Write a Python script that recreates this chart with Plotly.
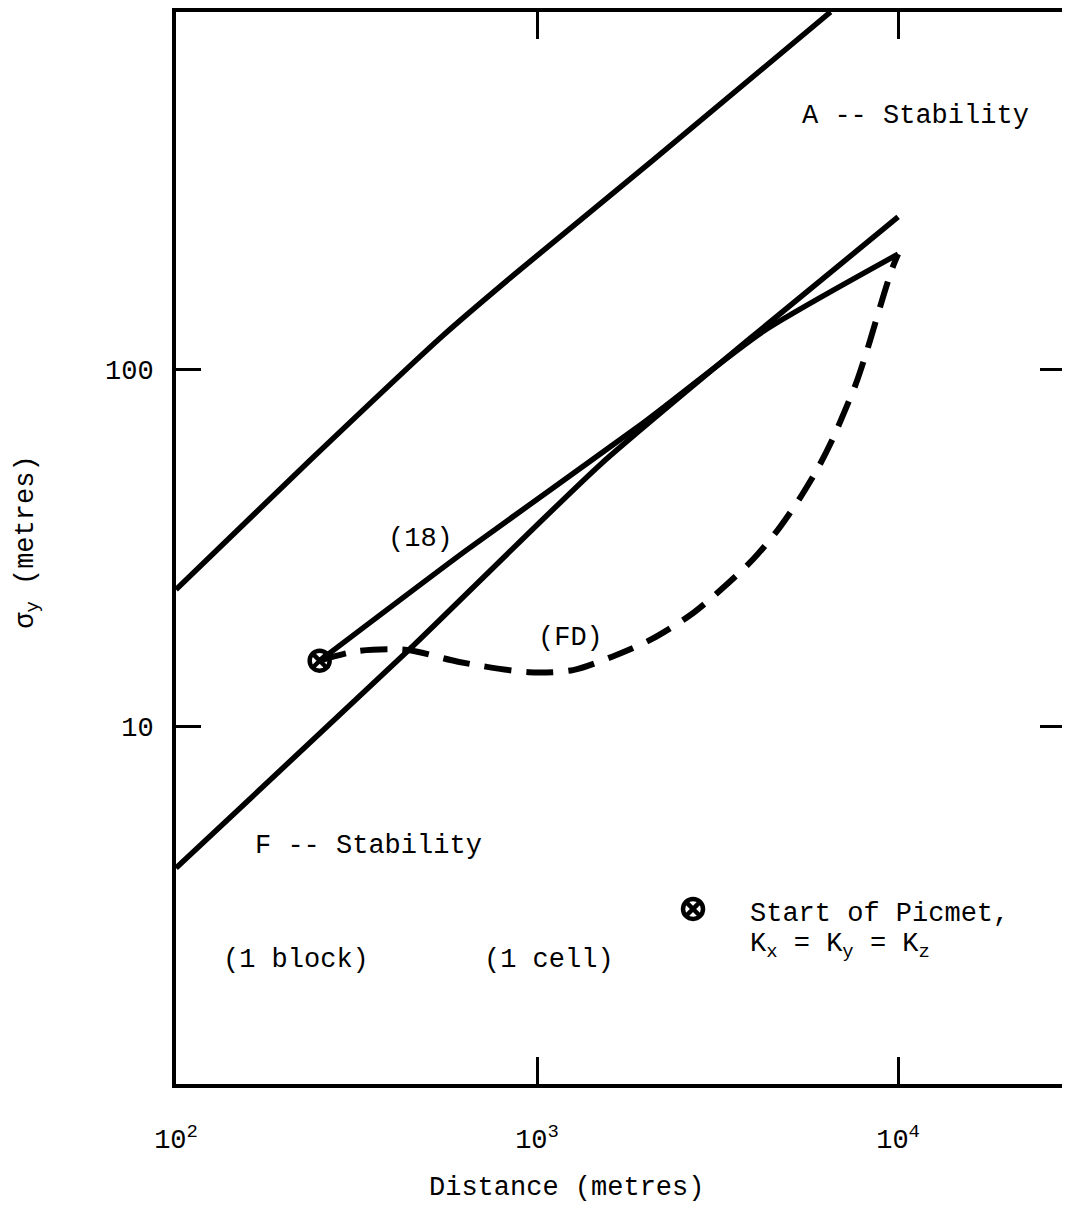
import plotly.graph_objects as go

# ---- data ----
a_x = [100, 234, 549, 869, 2096, 6500]
a_y = [24.2, 55.4, 124.4, 185, 385, 1000]

f_x = [100, 436, 1496, 3890, 10000]
f_y = [4.02, 16.2, 54.1, 122, 267]

l18_x = [250, 635, 1968, 4227, 10000]
l18_y = [15.3, 31.1, 70.8, 127.6, 210]

fd_x = [250, 321, 437, 604, 950, 1258, 1614, 2083, 2671, 3234, 3966, 4652,
        5352, 6003, 6605, 7134, 7650, 8154, 8636, 9145, 9624, 10000]
fd_y = [15.3, 16.3, 16.4, 15.2, 14.2, 14.4, 15.7, 17.6, 20.6, 24.2, 29.4, 35.6,
        43.7, 53.0, 64.2, 76.9, 91.4, 110.8, 134.3, 162.8, 191.1, 210]

start_x = [250]
start_y = [15.3]
key_x = [2704]
key_y = [3.09]

x_tickvals = [100, 1000, 10000]
x_ticktext = ["10<sup>2</sup>", "10<sup>3</sup>", "10<sup>4</sup>"]
y_tickvals = [10, 100]
y_ticktext = ["10", "100"]

FONT = "Liberation Mono, DejaVu Sans Mono, monospace"
FS = 27

fig = go.Figure()
line_style = dict(color="black", width=5.5, shape="spline", smoothing=0.6)
fig.add_trace(go.Scatter(x=a_x, y=a_y, mode="lines", line=line_style, showlegend=False))
fig.add_trace(go.Scatter(x=f_x, y=f_y, mode="lines", line=line_style, showlegend=False))
fig.add_trace(go.Scatter(x=l18_x, y=l18_y, mode="lines", line=line_style, showlegend=False))
fig.add_trace(go.Scatter(x=fd_x, y=fd_y, mode="lines",
                         line=dict(color="black", width=6, dash="27px,15px",
                                   shape="spline", smoothing=0.8),
                         showlegend=False))
marker_style = dict(symbol="circle-x-open", size=20, color="black", line=dict(width=4.5))
fig.add_trace(go.Scatter(x=start_x, y=start_y, mode="markers", marker=marker_style,
                         showlegend=False, yaxis="y2"))
fig.add_trace(go.Scatter(x=key_x, y=key_y, mode="markers", marker=marker_style,
                         showlegend=False))

annotations = [
    dict(x=4.047, y=2.71, text="A -- Stability"),
    dict(x=2.676, y=1.525, text="(18)"),
    dict(x=3.0914, y=1.247, text="(FD)"),
    dict(x=2.532, y=0.667, text="F -- Stability"),
    dict(x=3.5845, y=0.476, text="Start of Picmet,", xanchor="left"),
    dict(x=3.5845, y=0.385, text="K<sub>x</sub> = K<sub>y</sub> = K<sub>z</sub>", xanchor="left"),
    dict(x=2.332, y=0.347, text="(1 block)"),
    dict(x=3.033, y=0.347, text="(1 cell)"),
]
for a in annotations:
    a.setdefault("xanchor", "center")
    fig.add_annotation(xref="x", yref="y", yanchor="middle", showarrow=False,
                       font=dict(family=FONT, size=FS, color="black"), **a)

# axis titles
fig.add_annotation(xref="paper", yref="paper", x=0.4413, y=-0.097, text="Distance (metres)",
                   showarrow=False, xanchor="center", yanchor="middle",
                   font=dict(family=FONT, size=FS, color="black"))
fig.add_annotation(xref="paper", yref="paper", x=-0.168, y=0.505,
                   text="\u03c3<sub>y</sub> (metres)", textangle=-90,
                   showarrow=False, xanchor="center", yanchor="middle",
                   font=dict(family=FONT, size=FS, color="black"))

fig.update_layout(
    width=1054, height=1212,
    margin=dict(l=168, r=0, t=4, b=136),
    paper_bgcolor="white", plot_bgcolor="white",
    xaxis=dict(type="log", range=[2, 4.454], showgrid=False, zeroline=False,
               showline=True, linecolor="black", linewidth=4, mirror="ticks",
               ticks="inside", ticklen=27, tickwidth=3, tickcolor="black",
               tickvals=x_tickvals, ticktext=x_ticktext, ticklabelstandoff=28,
               tickfont=dict(family=FONT, size=FS, color="black")),
    yaxis=dict(type="log", range=[0, 3], showgrid=False, zeroline=False,
               showline=True, linecolor="black", linewidth=4, mirror=False,
               ticks="inside", ticklen=25, tickwidth=3, tickcolor="black",
               tickvals=y_tickvals, ticktext=y_ticktext, ticklabelstandoff=13,
               tickfont=dict(family=FONT, size=FS, color="black")),
    yaxis2=dict(type="log", range=[0, 3], overlaying="y", side="right", anchor="x",
                showgrid=False, zeroline=False, showline=False,
                ticks="inside", ticklen=22, tickwidth=3, tickcolor="black",
                tickvals=y_tickvals, showticklabels=False),
)

fig.write_html("out.html")
